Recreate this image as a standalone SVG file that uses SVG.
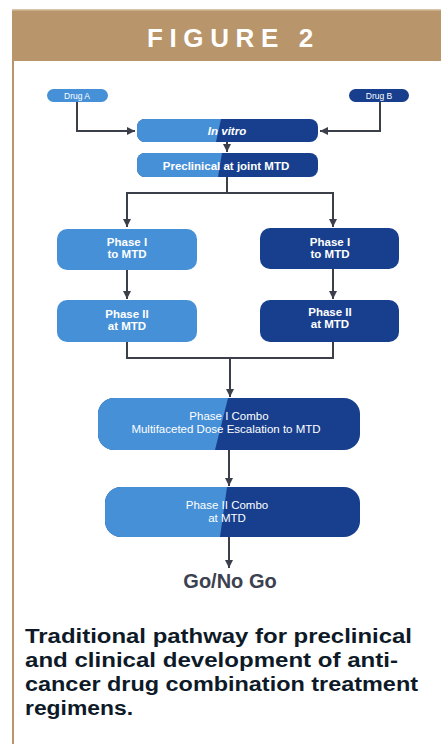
<svg xmlns="http://www.w3.org/2000/svg" width="441" height="744" viewBox="0 0 441 744">
<style>
.light{fill:#4690d8}
.dark{fill:#173f8e}
.bt{font-family:"Liberation Sans",Arial,sans-serif;font-weight:bold;font-size:11.5px;fill:#ffffff;text-anchor:middle}
.rt{font-family:"Liberation Sans",Arial,sans-serif;font-size:11.5px;fill:#ffffff;text-anchor:middle}
.sm{font-family:"Liberation Sans",Arial,sans-serif;font-size:8.5px;fill:#ffffff;text-anchor:middle}
.ln{fill:none;stroke:#3a3f4a;stroke-width:2}
.cap{font-family:"Liberation Sans",Arial,sans-serif;font-weight:bold;font-size:20px;fill:#0e1a28}
</style>
<defs>
<marker id="ah" markerUnits="userSpaceOnUse" markerWidth="9" markerHeight="8" refX="8" refY="4" orient="auto">
<path d="M0,0 L8,4 L0,8 z" fill="#3a3f4a"/>
</marker>
<clipPath id="c1"><rect x="137" y="119" width="181" height="23" rx="8"/></clipPath>
<clipPath id="c2"><rect x="137" y="153" width="181" height="24" rx="8"/></clipPath>
<clipPath id="c3"><rect x="98" y="398" width="262" height="52" rx="16"/></clipPath>
<clipPath id="c4"><rect x="105" y="487" width="255" height="50" rx="16"/></clipPath>
</defs>
<rect width="441" height="744" fill="#ffffff"/>
<g id="frame">
<rect x="12" y="10" width="429" height="51" fill="#b8956a"/>
<rect x="12" y="9" width="429" height="1.5" fill="#d9c6a8"/>
<rect x="12" y="61" width="2" height="683" fill="#b8956a"/>
<text x="147" y="47" font-family="'Liberation Sans',Arial,sans-serif" font-weight="bold" font-size="26" fill="#ffffff" letter-spacing="6.6">FIGURE 2</text>
</g>
<g id="connectors">
<path class="ln" d="M77,101 V131 H135" marker-end="url(#ah)"/>
<path class="ln" d="M380,102 V131 H320" marker-end="url(#ah)"/>
<path class="ln" d="M227,142 V152" marker-end="url(#ah)"/>
<path class="ln" d="M227,177 V193"/>
<path class="ln" d="M227,193 H127 V227" marker-end="url(#ah)"/>
<path class="ln" d="M227,193 H333 V227" marker-end="url(#ah)"/>
<path class="ln" d="M127,270 V299" marker-end="url(#ah)"/>
<path class="ln" d="M333,269 V299" marker-end="url(#ah)"/>
<path class="ln" d="M127,342 V358 H333 V342"/>
<path class="ln" d="M230,358 V397" marker-end="url(#ah)"/>
<path class="ln" d="M229,450 V486" marker-end="url(#ah)"/>
<path class="ln" d="M229,537 V568" marker-end="url(#ah)"/>
</g>
<g id="drugA">
<rect class="light" x="47" y="89" width="61" height="13" rx="6.5"/>
<text class="sm" x="77" y="98.5">Drug A</text>
</g>
<g id="drugB">
<rect class="dark" x="349" y="89" width="60" height="13" rx="6.5"/>
<text class="sm" x="379" y="98.5">Drug B</text>
</g>
<g id="invitro">
<g clip-path="url(#c1)">
<rect class="dark" x="137" y="119" width="181" height="23"/>
<polygon class="light" points="137,119 221,119 216,142 137,142"/>
</g>
<text class="bt" x="227" y="135" font-style="italic" font-size="12">In vitro</text>
</g>
<g id="preclinical">
<g clip-path="url(#c2)">
<rect class="dark" x="137" y="153" width="181" height="24"/>
<polygon class="light" points="137,153 222,153 218,177 137,177"/>
</g>
<text class="bt" x="226" y="169.5">Preclinical at joint MTD</text>
</g>
<g id="phase1A">
<rect class="light" x="57" y="229" width="140" height="41" rx="10"/>
<text class="bt" x="127" y="245.5">Phase I</text>
<text class="bt" x="127" y="258">to MTD</text>
</g>
<g id="phase1B">
<rect class="dark" x="260" y="228" width="139" height="41" rx="10"/>
<text class="bt" x="330" y="245.5">Phase I</text>
<text class="bt" x="330" y="258">to MTD</text>
</g>
<g id="phase2A">
<rect class="light" x="57" y="300" width="140" height="42" rx="10"/>
<text class="bt" x="127" y="317.5">Phase II</text>
<text class="bt" x="127" y="330">at MTD</text>
</g>
<g id="phase2B">
<rect class="dark" x="260" y="300" width="139" height="42" rx="10"/>
<text class="bt" x="330" y="315.5">Phase II</text>
<text class="bt" x="330" y="328">at MTD</text>
</g>
<g id="combo1">
<g clip-path="url(#c3)">
<rect class="dark" x="98" y="398" width="262" height="52"/>
<polygon class="light" points="98,398 228,398 215,450 98,450"/>
</g>
<text class="rt" x="229" y="420">Phase I Combo</text>
<text class="rt" x="226" y="432.5">Multifaceted Dose Escalation to MTD</text>
</g>
<g id="combo2">
<g clip-path="url(#c4)">
<rect class="dark" x="105" y="487" width="255" height="50"/>
<polygon class="light" points="105,487 227,487 220,537 105,537"/>
</g>
<text class="rt" x="227" y="509">Phase II Combo</text>
<text class="rt" x="227" y="521.5">at MTD</text>
</g>
<g id="gonogo">
<text x="230" y="588" font-family="'Liberation Sans',Arial,sans-serif" font-weight="bold" font-size="20" fill="#3b4150" text-anchor="middle">Go/No Go</text>
</g>
<g id="caption">
<text class="cap" x="25" y="643" textLength="387" lengthAdjust="spacingAndGlyphs">Traditional pathway for preclinical</text>
<text class="cap" x="25" y="667" textLength="373" lengthAdjust="spacingAndGlyphs">and clinical development of anti-</text>
<text class="cap" x="25" y="691" textLength="393" lengthAdjust="spacingAndGlyphs">cancer drug combination treatment</text>
<text class="cap" x="25" y="715" textLength="108" lengthAdjust="spacingAndGlyphs">regimens.</text>
</g>
</svg>
